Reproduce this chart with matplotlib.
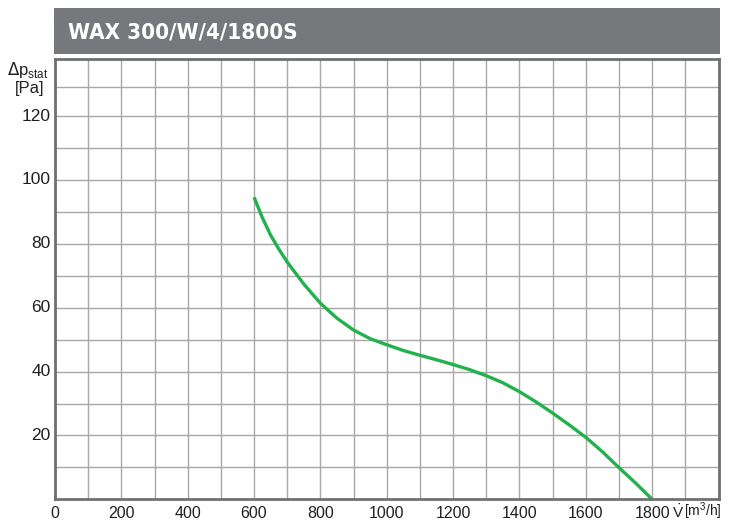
import matplotlib
matplotlib.use("Agg")
import matplotlib.pyplot as plt
from matplotlib.patches import Rectangle

# curve
flow = [600, 625, 650, 675, 700, 750, 800, 850, 900, 950, 1000, 1050, 1100, 1150, 1200,
        1250, 1300, 1350, 1400, 1450, 1500, 1550, 1600, 1650, 1700, 1750, 1800]
pressure = [94.6, 88.2, 82.7, 78.3, 74.3, 67.4, 61.4, 56.7, 53, 50.3, 48.4, 46.6, 45.1, 43.7, 42.2,
            40.6, 38.7, 36.5, 33.7, 30.5, 27, 23.3, 19.4, 14.9, 9.9, 5.1, 0]

x_ticks = [0, 200, 400, 600, 800, 1000, 1200, 1400, 1600, 1800]
y_ticks = [20, 40, 60, 80, 100, 120]
y_grid = [10, 20, 30, 40, 50, 60, 70, 80, 90, 100, 110, 120, 129]
title = "WAX 300/W/4/1800S"

plt.rcParams['font.family'] = ['Liberation Sans', 'DejaVu Sans']

fig = plt.figure(figsize=(7.36, 5.22), dpi=100)
W, H = 736, 522
ax = fig.add_axes([55 / W, 1 - 499.3 / H, (718.5 - 55) / W, (499.3 - 59.3) / H])

ax.set_xlim(0, 2000)
ax.set_ylim(0, 137.8)
ax.set_xticks(range(0, 2001, 100))
ax.set_yticks(y_grid)
ax.grid(True, color="#a8a8a8", linewidth=1.0)
ax.set_axisbelow(True)
ax.tick_params(length=0, labelbottom=False, labelleft=False)

for s in ax.spines.values():
    s.set_color("#6f7072")
    s.set_linewidth(2.0)

ax.plot(flow, pressure, color="#22b14c", linewidth=2.4, solid_capstyle="butt")

for v in x_ticks:
    ax.text(v, -4.4, str(v), ha="center", va="center", fontsize=11.5, color="#231f20")
for v in y_ticks:
    ax.text(-13, v, str(v), ha="right", va="center", fontsize=12.5, color="#231f20")

# title bar
fig.patches.append(Rectangle((53.5 / W, 1 - 53.5 / H), (720 - 53.5) / W, 45.5 / H,
                             transform=fig.transFigure, facecolor="#77787b",
                             edgecolor="none"))
fig.text(68 / W, 1 - 32 / H, title, color="white", fontsize=16, fontweight="bold",
         fontstretch="condensed", family=["DejaVu Sans"], va="center", ha="left")

# axis labels
fig.text(49 / W, 1 - 70 / H, r"$\Delta$p$_{\mathregular{stat}}$", ha="right", va="center",
         fontsize=12, color="#231f20")
fig.text(44 / W, 1 - 89 / H, "[Pa]", ha="right", va="center", fontsize=12, color="#231f20")
fig.text(672 / W, 1 - 518 / H, r"$\dot{\mathregular{V}}$", ha="left", va="baseline",
         fontsize=11, color="#231f20")
fig.text(684 / W, 1 - 511 / H, "[m$^{\\mathregular{3}}$/h]", ha="left", va="center",
         fontsize=10, color="#231f20")

fig.savefig("out.png", dpi=100)
